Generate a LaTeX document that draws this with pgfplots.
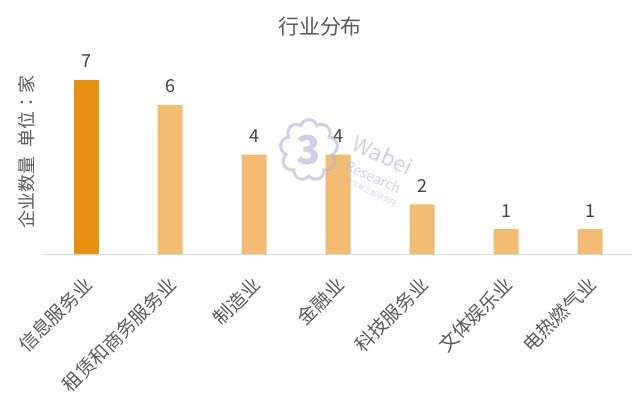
\documentclass[border=0pt]{standalone}
\usepackage{fontspec}
\setmainfont{Noto Sans CJK SC}
\newfontfamily\tcfont{Noto Sans CJK TC}
\usepackage{pgfplots}
\pgfplotsset{compat=1.18}
\usetikzlibrary{shapes.symbols}

\definecolor{darkbar}{HTML}{E8900F}
\definecolor{lightbar}{HTML}{F2BC73}
\definecolor{txt}{HTML}{595959}
\definecolor{numtxt}{HTML}{404040}
\definecolor{axline}{HTML}{D9D9D9}
\definecolor{wmark}{HTML}{AEB3DA}

\begin{document}
\begin{tikzpicture}[x=1bp,y=1bp]
\useasboundingbox (0,0) rectangle (640,400);

\begin{axis}[
  at={(44bp,146bp)}, anchor=south west,
  scale only axis,
  width=588bp, height=199bp,
  xmin=-0.5, xmax=6.5,
  ymin=0, ymax=8,
  axis y line=none,
  axis x line*=bottom,
  axis line style={draw=axline, line width=1bp},
  x axis line style={-},
  xtick={0,1,2,3,4,5,6},
  xticklabels={信息服务业,租赁和商务服务业,制造业,金融业,科技服务业,文体娱乐业,电热燃气业},
  major tick length=0pt,
  xticklabel style={xshift=3bp, yshift=-27bp, rotate=45, anchor=east, inner sep=0pt,
    font=\fontsize{19}{19}\selectfont, text=txt},
  ybar, bar width=25bp, bar shift=0pt,
  nodes near coords,
  /pgf/number format/assume math mode=true,
  every node near coord/.append style={anchor=base, inner sep=0pt, yshift=12bp,
    font=\fontsize{18}{18}\selectfont, text=numtxt},
  clip=false,
]
\addplot[fill=darkbar, draw=none] coordinates {(0,7)};
\addplot[fill=lightbar, draw=none] coordinates {(1,6) (2,4) (3,4) (4,2) (5,1) (6,1)};
\end{axis}

% watermark
\begin{scope}[opacity=0.6]
\node[cloud, cloud puffs=9, aspect=0.9, draw=wmark, line width=3bp, minimum width=50bp, minimum height=50bp,
  text=wmark, font=\fontsize{40}{40}\selectfont\bfseries] at (309,250) {3};
\node[rotate=-25, text=wmark, font=\fontsize{22}{22}\selectfont\itshape] at (383,245) {Wabei};
\node[rotate=-25, text=wmark, font=\fontsize{14}{14}\selectfont] at (374,223) {Research};
\node[rotate=-25, text=wmark, font=\fontsize{7}{7}\selectfont] at (371,208) {挖贝新三板研究院};
\end{scope}

\node[text=txt, font=\fontsize{21}{21}\selectfont] at (320,373) {行业分布};
\node[rotate=90, text=txt, font=\fontsize{18}{18}\selectfont] at (27,248) {企业数量\hspace{0.5em}单位{\tcfont ：}家};
\end{tikzpicture}
\end{document}
